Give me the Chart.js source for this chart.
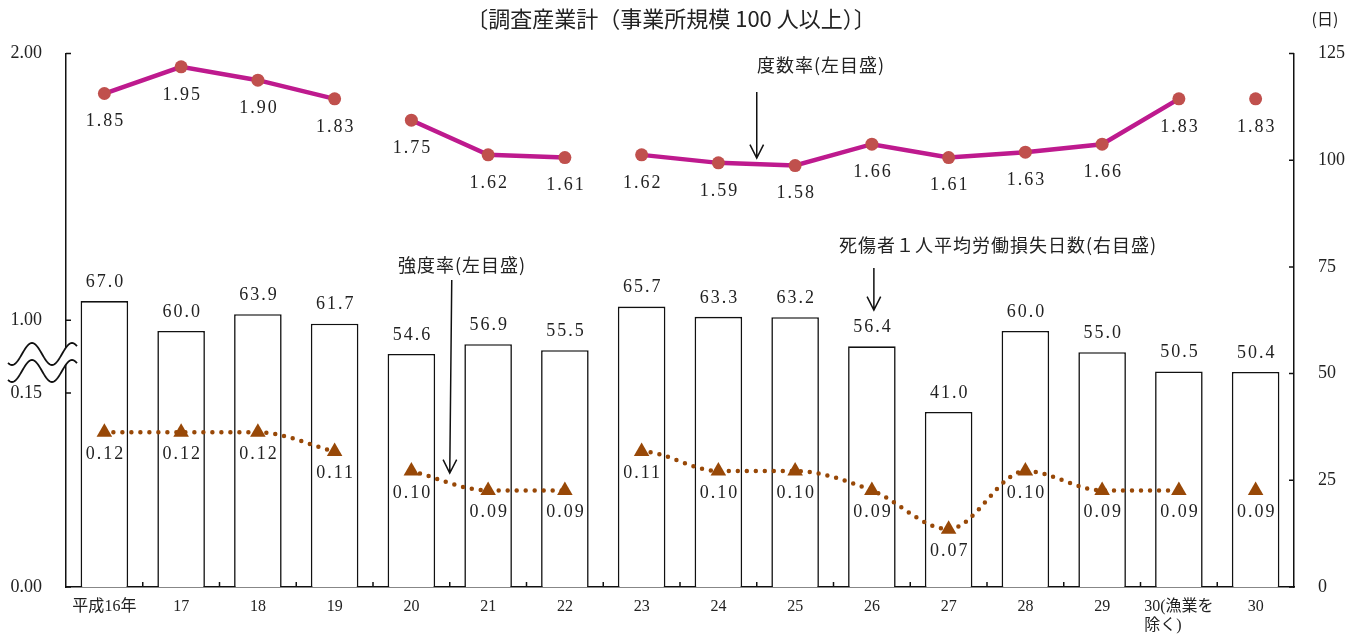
<!DOCTYPE html>
<html lang="ja">
<head>
<meta charset="utf-8">
<title>調査産業計</title>
<script src="https://cdn.jsdelivr.net/npm/chart.js@4.4.1/dist/chart.umd.min.js"></script>
<style>
  html, body { margin: 0; padding: 0; background: #fff; }
</style>
</head>
<body>
<canvas id="chart" width="1360" height="634"></canvas>
<script>
const years = ['平成16年', '17', '18', '19', '20', '21', '22', '23', '24', '25', '26', '27', '28', '29',
  ['30(漁業を', '除く)\u3000\u3000'], '30'];
const frequencyRate = [1.85, 1.95, 1.90, 1.83, 1.75, 1.62, 1.61, 1.62, 1.59, 1.58, 1.66, 1.61, 1.63, 1.66, 1.83, 1.83];
const severityRate = [0.12, 0.12, 0.12, 0.11, 0.10, 0.09, 0.09, 0.11, 0.10, 0.10, 0.09, 0.07, 0.10, 0.09, 0.09, 0.09];
const lostDays = [67.0, 60.0, 63.9, 61.7, 54.6, 56.9, 55.5, 65.7, 63.3, 63.2, 56.4, 41.0, 60.0, 55.0, 50.5, 50.4];
// the lines are not joined from these points to the next one
const lineBreaks = [3, 6, 14];
const dayTicks = [0, 25, 50, 75, 100, 125];
// left axis is broken: labels and where they sit on the frequency scale
const leftTickLabels = ['0.00', '0.15', '1.00', '2.00'];
const leftTickAt = [0, 0.727, 1, 2];

const serif = '"Liberation Serif", "Noto Sans CJK JP", serif';
const jp = '"Noto Sans CJK JP", sans-serif';
const ink = '#222';

const gap = c => lineBreaks.includes(c.p0DataIndex) ? 'transparent' : undefined;

function arrow(ctx, x1, y1, x2, y2) {
  const a = Math.atan2(y2 - y1, x2 - x1);
  ctx.beginPath();
  ctx.moveTo(x1, y1);
  ctx.lineTo(x2, y2);
  ctx.moveTo(x2 - 15 * Math.cos(a - 0.47), y2 - 15 * Math.sin(a - 0.47));
  ctx.lineTo(x2, y2);
  ctx.lineTo(x2 - 15 * Math.cos(a + 0.47), y2 - 15 * Math.sin(a + 0.47));
  ctx.stroke();
}

const decor = {
  id: 'decor',
  afterDatasetsDraw(chart) {
    const ctx = chart.ctx;
    ctx.save();
    ctx.fillStyle = ink;
    ctx.textAlign = 'center';
    ctx.textBaseline = 'middle';
    ctx.font = '18px ' + serif;
    ctx.letterSpacing = '2px';
    chart.data.datasets.forEach((ds, di) => {
      chart.getDatasetMeta(di).data.forEach((el, i) => {
        ctx.fillText(ds.data[i].toFixed(ds.digits), el.x + 1, el.y + ds.labelDy);
      });
    });
    ctx.restore();
  },
  afterDraw(chart) {
    const ctx = chart.ctx;
    const { x, yL, yR } = chart.scales;
    const a = chart.chartArea;
    ctx.save();
    ctx.strokeStyle = '#111';
    ctx.lineWidth = 1.5;
    // inside tick marks
    ctx.beginPath();
    yL.ticks.forEach(t => {
      const py = yL.getPixelForValue(t.value);
      ctx.moveTo(a.left, py); ctx.lineTo(a.left + 5, py);
    });
    yR.ticks.forEach(t => {
      const py = yR.getPixelForValue(t.value);
      ctx.moveTo(a.right, py); ctx.lineTo(a.right - 5, py);
    });
    for (let i = 0; i < years.length - 1; i++) {
      const px = (x.getPixelForValue(i) + x.getPixelForValue(i + 1)) / 2;
      ctx.moveTo(px, a.bottom); ctx.lineTo(px, a.bottom - 5);
    }
    ctx.stroke();

    // break mark on the left axis
    const wave = (px, base) => base - 11 * Math.sin(2 * Math.PI * (px - 22) / 40);
    ctx.beginPath();
    for (let px = 8; px <= 77; px++) ctx.lineTo(px, wave(px, 354));
    for (let px = 77; px >= 8; px--) ctx.lineTo(px, wave(px, 371));
    ctx.closePath();
    ctx.fillStyle = '#fff';
    ctx.fill();
    ctx.lineWidth = 1.8;
    [354, 371].forEach(base => {
      ctx.beginPath();
      for (let px = 8; px <= 77; px++) ctx.lineTo(px, wave(px, base));
      ctx.stroke();
    });

    // title and notes
    ctx.fillStyle = ink;
    ctx.textBaseline = 'middle';
    ctx.textAlign = 'center';
    ctx.font = '22px ' + jp;
    ctx.fillText('〔調査産業計（事業所規模 100 人以上）〕', 671, 19);
    ctx.font = '16px ' + jp;
    ctx.fillText('(日)', 1325, 19);
    ctx.font = '18px ' + jp;
    ctx.letterSpacing = '1px';
    ctx.fillText('度数率(左目盛)', 821, 65);
    ctx.fillText('強度率(左目盛)', 462, 265);
    ctx.fillText('死傷者１人平均労働損失日数(右目盛)', 998, 245);

    ctx.lineWidth = 1.5;
    ctx.strokeStyle = '#111';
    const mid = (i, j) => (x.getPixelForValue(i) + x.getPixelForValue(j)) / 2;
    arrow(ctx, mid(8, 9), 92, mid(8, 9), 158);
    arrow(ctx, mid(4, 5) + 2, 280, mid(4, 5), 473);
    arrow(ctx, x.getPixelForValue(10) + 2, 268, x.getPixelForValue(10) + 2, 310);
    ctx.restore();
  }
};

const ctx = document.getElementById('chart').getContext('2d');
new Chart(ctx, {
  type: 'bar',
  data: {
    labels: years,
    datasets: [
      {
        type: 'line', label: '度数率', data: frequencyRate, yAxisID: 'yL',
        borderColor: '#BE1A8E', borderWidth: 4.5, tension: 0,
        pointStyle: 'circle', pointRadius: 6.5, pointBorderWidth: 0,
        pointBackgroundColor: '#C0504D', pointBorderColor: '#C0504D',
        segment: { borderColor: gap }, order: 0, labelDy: 28, digits: 2
      },
      {
        type: 'line', label: '強度率', data: severityRate, yAxisID: 'yS',
        borderColor: '#984807', borderWidth: 4.5, borderDash: [0, 9], borderCapStyle: 'round',
        cubicInterpolationMode: 'monotone', pointStyle: 'triangle', pointRadius: 9, pointBorderWidth: 0,
        pointBackgroundColor: '#984807', pointBorderColor: '#984807',
        segment: { borderColor: gap }, order: 1, labelDy: 22, digits: 2
      },
      {
        type: 'bar', label: '死傷者1人平均労働損失日数', data: lostDays, yAxisID: 'yR',
        backgroundColor: '#fff', borderColor: '#111', borderWidth: 1.6,
        barPercentage: 0.62, categoryPercentage: 1, order: 2, labelDy: -19, digits: 1
      }
    ]
  },
  options: {
    responsive: false,
    animation: false,
    layout: { padding: { top: 53.5 } },
    plugins: { legend: { display: false }, tooltip: { enabled: false } },
    scales: {
      x: {
        grid: { display: false },
        border: { color: '#111', width: 1.5 },
        ticks: { color: ink, font: { family: serif, size: 16, lineHeight: 1.15 }, padding: 3, maxRotation: 0, autoSkip: false },
        afterFit(s) { s.height = 47; }
      },
      yL: {
        position: 'left', min: 0, max: 2,
        grid: { display: false },
        border: { color: '#111', width: 1.5 },
        afterBuildTicks(s) { s.ticks = leftTickAt.map(v => ({ value: v })); },
        ticks: { callback: (v, i) => leftTickLabels[i], color: ink, font: { family: serif, size: 18 }, padding: 16, autoSkip: false },
        afterFit(s) { s.width = 66; }
      },
      yR: {
        position: 'right', min: 0, max: 125,
        grid: { display: false },
        border: { color: '#111', width: 1.5 },
        afterBuildTicks(s) { s.ticks = dayTicks.map(v => ({ value: v })); },
        ticks: { color: ink, font: { family: serif, size: 18 }, padding: 16, autoSkip: false },
        afterFit(s) { s.width = 66; }
      },
      yS: { display: false, min: 0.0402, max: 0.3152 }
    }
  },
  plugins: [decor]
});
</script>
</body>
</html>
